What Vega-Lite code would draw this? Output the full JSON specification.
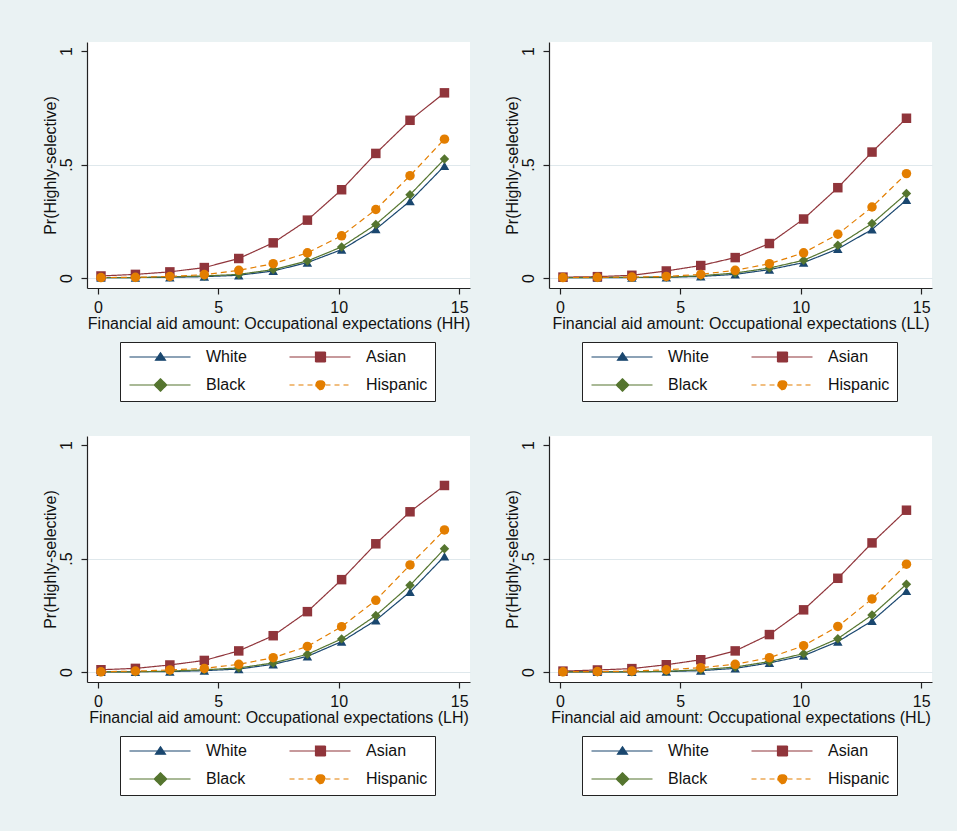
{
"$schema": "https://vega.github.io/schema/vega-lite/v6.json",
"background": "#eaf2f3",
"padding": {"left": 41, "top": 42, "right": 25, "bottom": 39},
"config": {
  "font": "Liberation Sans",
  "view": {"fill": "white", "stroke": null},
  "axis": {"labelFont": "Liberation Sans", "titleFont": "Liberation Sans", "labelFontSize": 16, "titleFontSize": 16, "titleFontWeight": "normal", "labelColor": "#111111", "titleColor": "#111111", "domainColor": "#222222", "tickColor": "#222222", "domainWidth": 1.2, "tickWidth": 1.2, "tickSize": 6},
  "legend": {"title": null, "orient": "none", "legendX": 33, "legendY": 300, "columns": 2, "direction": "horizontal", "symbolSize": 100, "symbolStrokeWidth": 1.2, "symbolOpacity": 1, "labelOffset": 63, "labelFontSize": 16, "labelFont": "Liberation Sans", "labelColor": "#111111", "rowPadding": 11, "columnPadding": 40, "padding": 7, "strokeColor": "#222222", "fillColor": "white"}
},
"data": {"values": [
{"p":"HH","g":"White","x":0.13,"y":0.002},{"p":"HH","g":"White","x":1.56,"y":0.002},{"p":"HH","g":"White","x":2.99,"y":0.003},{"p":"HH","g":"White","x":4.42,"y":0.006},{"p":"HH","g":"White","x":5.85,"y":0.012},{"p":"HH","g":"White","x":7.28,"y":0.031},{"p":"HH","g":"White","x":8.7,"y":0.068},{"p":"HH","g":"White","x":10.12,"y":0.125},{"p":"HH","g":"White","x":11.54,"y":0.215},{"p":"HH","g":"White","x":12.96,"y":0.339},{"p":"HH","g":"White","x":14.39,"y":0.494},
{"p":"HH","g":"Asian","x":0.13,"y":0.009},{"p":"HH","g":"Asian","x":1.56,"y":0.016},{"p":"HH","g":"Asian","x":2.99,"y":0.027},{"p":"HH","g":"Asian","x":4.42,"y":0.046},{"p":"HH","g":"Asian","x":5.85,"y":0.086},{"p":"HH","g":"Asian","x":7.28,"y":0.155},{"p":"HH","g":"Asian","x":8.7,"y":0.255},{"p":"HH","g":"Asian","x":10.12,"y":0.389},{"p":"HH","g":"Asian","x":11.54,"y":0.549},{"p":"HH","g":"Asian","x":12.96,"y":0.695},{"p":"HH","g":"Asian","x":14.39,"y":0.816},
{"p":"HH","g":"Black","x":0.13,"y":0.002},{"p":"HH","g":"Black","x":1.56,"y":0.002},{"p":"HH","g":"Black","x":2.99,"y":0.005},{"p":"HH","g":"Black","x":4.42,"y":0.009},{"p":"HH","g":"Black","x":5.85,"y":0.016},{"p":"HH","g":"Black","x":7.28,"y":0.037},{"p":"HH","g":"Black","x":8.7,"y":0.075},{"p":"HH","g":"Black","x":10.12,"y":0.137},{"p":"HH","g":"Black","x":11.54,"y":0.236},{"p":"HH","g":"Black","x":12.96,"y":0.367},{"p":"HH","g":"Black","x":14.39,"y":0.524},
{"p":"HH","g":"Hispanic","x":0.13,"y":0.002},{"p":"HH","g":"Hispanic","x":1.56,"y":0.003},{"p":"HH","g":"Hispanic","x":2.99,"y":0.007},{"p":"HH","g":"Hispanic","x":4.42,"y":0.015},{"p":"HH","g":"Hispanic","x":5.85,"y":0.034},{"p":"HH","g":"Hispanic","x":7.28,"y":0.063},{"p":"HH","g":"Hispanic","x":8.7,"y":0.111},{"p":"HH","g":"Hispanic","x":10.12,"y":0.186},{"p":"HH","g":"Hispanic","x":11.54,"y":0.302},{"p":"HH","g":"Hispanic","x":12.96,"y":0.451},{"p":"HH","g":"Hispanic","x":14.39,"y":0.612},
{"p":"LL","g":"White","x":0.13,"y":0.002},{"p":"LL","g":"White","x":1.56,"y":0.002},{"p":"LL","g":"White","x":2.99,"y":0.002},{"p":"LL","g":"White","x":4.42,"y":0.003},{"p":"LL","g":"White","x":5.85,"y":0.007},{"p":"LL","g":"White","x":7.28,"y":0.016},{"p":"LL","g":"White","x":8.7,"y":0.037},{"p":"LL","g":"White","x":10.12,"y":0.068},{"p":"LL","g":"White","x":11.54,"y":0.128},{"p":"LL","g":"White","x":12.96,"y":0.214},{"p":"LL","g":"White","x":14.39,"y":0.344},
{"p":"LL","g":"Asian","x":0.13,"y":0.004},{"p":"LL","g":"Asian","x":1.56,"y":0.006},{"p":"LL","g":"Asian","x":2.99,"y":0.012},{"p":"LL","g":"Asian","x":4.42,"y":0.031},{"p":"LL","g":"Asian","x":5.85,"y":0.055},{"p":"LL","g":"Asian","x":7.28,"y":0.09},{"p":"LL","g":"Asian","x":8.7,"y":0.152},{"p":"LL","g":"Asian","x":10.12,"y":0.26},{"p":"LL","g":"Asian","x":11.54,"y":0.398},{"p":"LL","g":"Asian","x":12.96,"y":0.555},{"p":"LL","g":"Asian","x":14.39,"y":0.704},
{"p":"LL","g":"Black","x":0.13,"y":0.002},{"p":"LL","g":"Black","x":1.56,"y":0.002},{"p":"LL","g":"Black","x":2.99,"y":0.003},{"p":"LL","g":"Black","x":4.42,"y":0.004},{"p":"LL","g":"Black","x":5.85,"y":0.01},{"p":"LL","g":"Black","x":7.28,"y":0.022},{"p":"LL","g":"Black","x":8.7,"y":0.044},{"p":"LL","g":"Black","x":10.12,"y":0.078},{"p":"LL","g":"Black","x":11.54,"y":0.144},{"p":"LL","g":"Black","x":12.96,"y":0.24},{"p":"LL","g":"Black","x":14.39,"y":0.372},
{"p":"LL","g":"Hispanic","x":0.13,"y":0.002},{"p":"LL","g":"Hispanic","x":1.56,"y":0.003},{"p":"LL","g":"Hispanic","x":2.99,"y":0.004},{"p":"LL","g":"Hispanic","x":4.42,"y":0.007},{"p":"LL","g":"Hispanic","x":5.85,"y":0.016},{"p":"LL","g":"Hispanic","x":7.28,"y":0.034},{"p":"LL","g":"Hispanic","x":8.7,"y":0.063},{"p":"LL","g":"Hispanic","x":10.12,"y":0.111},{"p":"LL","g":"Hispanic","x":11.54,"y":0.193},{"p":"LL","g":"Hispanic","x":12.96,"y":0.313},{"p":"LL","g":"Hispanic","x":14.39,"y":0.46},
{"p":"LH","g":"White","x":0.13,"y":0.001},{"p":"LH","g":"White","x":1.56,"y":0.001},{"p":"LH","g":"White","x":2.99,"y":0.002},{"p":"LH","g":"White","x":4.42,"y":0.006},{"p":"LH","g":"White","x":5.85,"y":0.013},{"p":"LH","g":"White","x":7.28,"y":0.034},{"p":"LH","g":"White","x":8.7,"y":0.069},{"p":"LH","g":"White","x":10.12,"y":0.134},{"p":"LH","g":"White","x":11.54,"y":0.228},{"p":"LH","g":"White","x":12.96,"y":0.353},{"p":"LH","g":"White","x":14.39,"y":0.51},
{"p":"LH","g":"Asian","x":0.13,"y":0.01},{"p":"LH","g":"Asian","x":1.56,"y":0.016},{"p":"LH","g":"Asian","x":2.99,"y":0.031},{"p":"LH","g":"Asian","x":4.42,"y":0.051},{"p":"LH","g":"Asian","x":5.85,"y":0.093},{"p":"LH","g":"Asian","x":7.28,"y":0.16},{"p":"LH","g":"Asian","x":8.7,"y":0.266},{"p":"LH","g":"Asian","x":10.12,"y":0.407},{"p":"LH","g":"Asian","x":11.54,"y":0.565},{"p":"LH","g":"Asian","x":12.96,"y":0.706},{"p":"LH","g":"Asian","x":14.39,"y":0.822},
{"p":"LH","g":"Black","x":0.13,"y":0.001},{"p":"LH","g":"Black","x":1.56,"y":0.001},{"p":"LH","g":"Black","x":2.99,"y":0.004},{"p":"LH","g":"Black","x":4.42,"y":0.01},{"p":"LH","g":"Black","x":5.85,"y":0.018},{"p":"LH","g":"Black","x":7.28,"y":0.04},{"p":"LH","g":"Black","x":8.7,"y":0.078},{"p":"LH","g":"Black","x":10.12,"y":0.146},{"p":"LH","g":"Black","x":11.54,"y":0.249},{"p":"LH","g":"Black","x":12.96,"y":0.382},{"p":"LH","g":"Black","x":14.39,"y":0.543},
{"p":"LH","g":"Hispanic","x":0.13,"y":0.001},{"p":"LH","g":"Hispanic","x":1.56,"y":0.004},{"p":"LH","g":"Hispanic","x":2.99,"y":0.009},{"p":"LH","g":"Hispanic","x":4.42,"y":0.016},{"p":"LH","g":"Hispanic","x":5.85,"y":0.034},{"p":"LH","g":"Hispanic","x":7.28,"y":0.063},{"p":"LH","g":"Hispanic","x":8.7,"y":0.113},{"p":"LH","g":"Hispanic","x":10.12,"y":0.2},{"p":"LH","g":"Hispanic","x":11.54,"y":0.316},{"p":"LH","g":"Hispanic","x":12.96,"y":0.472},{"p":"LH","g":"Hispanic","x":14.39,"y":0.626},
{"p":"HL","g":"White","x":0.13,"y":0.001},{"p":"HL","g":"White","x":1.56,"y":0.001},{"p":"HL","g":"White","x":2.99,"y":0.001},{"p":"HL","g":"White","x":4.42,"y":0.002},{"p":"HL","g":"White","x":5.85,"y":0.006},{"p":"HL","g":"White","x":7.28,"y":0.016},{"p":"HL","g":"White","x":8.7,"y":0.04},{"p":"HL","g":"White","x":10.12,"y":0.072},{"p":"HL","g":"White","x":11.54,"y":0.134},{"p":"HL","g":"White","x":12.96,"y":0.225},{"p":"HL","g":"White","x":14.39,"y":0.357},
{"p":"HL","g":"Asian","x":0.13,"y":0.004},{"p":"HL","g":"Asian","x":1.56,"y":0.009},{"p":"HL","g":"Asian","x":2.99,"y":0.015},{"p":"HL","g":"Asian","x":4.42,"y":0.032},{"p":"HL","g":"Asian","x":5.85,"y":0.054},{"p":"HL","g":"Asian","x":7.28,"y":0.093},{"p":"HL","g":"Asian","x":8.7,"y":0.165},{"p":"HL","g":"Asian","x":10.12,"y":0.274},{"p":"HL","g":"Asian","x":11.54,"y":0.413},{"p":"HL","g":"Asian","x":12.96,"y":0.569},{"p":"HL","g":"Asian","x":14.39,"y":0.713},
{"p":"HL","g":"Black","x":0.13,"y":0.001},{"p":"HL","g":"Black","x":1.56,"y":0.001},{"p":"HL","g":"Black","x":2.99,"y":0.001},{"p":"HL","g":"Black","x":4.42,"y":0.003},{"p":"HL","g":"Black","x":5.85,"y":0.01},{"p":"HL","g":"Black","x":7.28,"y":0.022},{"p":"HL","g":"Black","x":8.7,"y":0.046},{"p":"HL","g":"Black","x":10.12,"y":0.081},{"p":"HL","g":"Black","x":11.54,"y":0.147},{"p":"HL","g":"Black","x":12.96,"y":0.251},{"p":"HL","g":"Black","x":14.39,"y":0.387},
{"p":"HL","g":"Hispanic","x":0.13,"y":0.001},{"p":"HL","g":"Hispanic","x":1.56,"y":0.002},{"p":"HL","g":"Hispanic","x":2.99,"y":0.004},{"p":"HL","g":"Hispanic","x":4.42,"y":0.01},{"p":"HL","g":"Hispanic","x":5.85,"y":0.019},{"p":"HL","g":"Hispanic","x":7.28,"y":0.034},{"p":"HL","g":"Hispanic","x":8.7,"y":0.063},{"p":"HL","g":"Hispanic","x":10.12,"y":0.116},{"p":"HL","g":"Hispanic","x":11.54,"y":0.201},{"p":"HL","g":"Hispanic","x":12.96,"y":0.322},{"p":"HL","g":"Hispanic","x":14.39,"y":0.475}
]},
"columns": 2,
"bounds": "flush",
"spacing": {"row": 148, "column": 79},
"resolve": {"scale": {"color": "independent", "shape": "independent", "strokeDash": "independent", "fill": "independent", "stroke": "independent"}, "legend": {"color": "independent", "shape": "independent", "strokeDash": "independent", "fill": "independent", "stroke": "independent"}},
"concat": [
{"width": 383, "height": 246,
 "transform": [{"filter": "datum.p === 'HH'"}],
 "resolve": {"scale": {"shape": "independent", "fill": "independent", "stroke": "independent", "strokeDash": "independent"}},
 "encoding": {
  "x": {"field": "x", "type": "quantitative", "scale": {"domain": [-0.45, 15.45], "nice": false, "zero": false}, "axis": {"values": [0,5,10,15], "format": "d", "grid": false, "labelPadding": 5, "titlePadding": 0, "title": "Financial aid amount: Occupational expectations (HH)"}},
  "y": {"field": "y", "type": "quantitative", "scale": {"domain": [-0.044, 1.04], "nice": false, "zero": false}, "axis": {"values": [0, 0.5, 1], "labelExpr": "datum.value == 0.5 ? '.5' : format(datum.value, 'd')", "labelAngle": -90, "labelAlign": "center", "labelBaseline": "bottom", "labelPadding": 7, "titlePadding": 0, "grid": true, "gridColor": "#dfe8ec", "gridOpacity": {"condition": {"test": "datum.value == 1", "value": 0}, "value": 1}, "title": "Pr(Highly-selective)"}}
 },
 "layer": [
  {"mark": {"type": "line", "strokeWidth": 1.2},
   "encoding": {
    "color": {"field": "g", "type": "nominal", "scale": {"domain": ["White","Asian","Black","Hispanic"], "range": ["#1a476f","#90353b","#55752f","#e37e00"]}, "legend": null},
    "strokeDash": {"field": "g", "type": "nominal", "scale": {"domain": ["White","Asian","Black","Hispanic"], "range": [[1,0],[1,0],[1,0],[6,4]]}, "legend": null}
   }},
  {"mark": {"type": "point", "filled": true, "size": 90, "opacity": 1},
   "encoding": {
    "color": {"field": "g", "type": "nominal", "legend": null},
    "shape": {"field": "g", "type": "nominal", "scale": {"domain": ["White","Asian","Black","Hispanic"], "range": ["triangle-up","square","diamond","circle"]}, "legend": null}
   }},
  {"transform": [{"filter": "datum.x < -5"}],
   "mark": {"type": "point", "filled": true},
   "encoding": {
    "shape": {"field": "g", "type": "nominal", "scale": {"domain": ["White","Asian","Black","Hispanic"], "range": ["M-1.1,0H11.1M5.1,-0.85L6.1,0.65L4.1,0.65Z", "M-1.1,0H11.1M4.1,-1H6.1V1H4.1Z", "M-1.1,0H11.1M5.1,-1.25L6.35,0L5.1,1.25L3.85,0Z", "M-1.1,0H11.1M4.17,0A0.93,0.93 0 1,1 6.03,0A0.93,0.93 0 1,1 4.17,0Z"]}, "legend": {"title": null}},
    "fill": {"field": "g", "type": "nominal", "scale": {"domain": ["White","Asian","Black","Hispanic"], "range": ["#1a476f","#90353b","#55752f","#e37e00"]}, "legend": {"title": null}},
    "stroke": {"field": "g", "type": "nominal", "scale": {"domain": ["White","Asian","Black","Hispanic"], "range": ["#1a476f","#90353b","#55752f","#e37e00"]}, "legend": {"title": null}},
    "strokeDash": {"field": "g", "type": "nominal", "scale": {"domain": ["White","Asian","Black","Hispanic"], "range": [[1,0],[1,0],[1,0],[5,4]]}, "legend": {"title": null}}
   }}
 ]},
{"width": 383, "height": 246,
 "transform": [{"filter": "datum.p === 'LL'"}],
 "resolve": {"scale": {"shape": "independent", "fill": "independent", "stroke": "independent", "strokeDash": "independent"}},
 "encoding": {
  "x": {"field": "x", "type": "quantitative", "scale": {"domain": [-0.45, 15.45], "nice": false, "zero": false}, "axis": {"values": [0,5,10,15], "format": "d", "grid": false, "labelPadding": 5, "titlePadding": 0, "title": "Financial aid amount: Occupational expectations (LL)"}},
  "y": {"field": "y", "type": "quantitative", "scale": {"domain": [-0.044, 1.04], "nice": false, "zero": false}, "axis": {"values": [0, 0.5, 1], "labelExpr": "datum.value == 0.5 ? '.5' : format(datum.value, 'd')", "labelAngle": -90, "labelAlign": "center", "labelBaseline": "bottom", "labelPadding": 7, "titlePadding": 0, "grid": true, "gridColor": "#dfe8ec", "gridOpacity": {"condition": {"test": "datum.value == 1", "value": 0}, "value": 1}, "title": "Pr(Highly-selective)"}}
 },
 "layer": [
  {"mark": {"type": "line", "strokeWidth": 1.2},
   "encoding": {
    "color": {"field": "g", "type": "nominal", "scale": {"domain": ["White","Asian","Black","Hispanic"], "range": ["#1a476f","#90353b","#55752f","#e37e00"]}, "legend": null},
    "strokeDash": {"field": "g", "type": "nominal", "scale": {"domain": ["White","Asian","Black","Hispanic"], "range": [[1,0],[1,0],[1,0],[6,4]]}, "legend": null}
   }},
  {"mark": {"type": "point", "filled": true, "size": 90, "opacity": 1},
   "encoding": {
    "color": {"field": "g", "type": "nominal", "legend": null},
    "shape": {"field": "g", "type": "nominal", "scale": {"domain": ["White","Asian","Black","Hispanic"], "range": ["triangle-up","square","diamond","circle"]}, "legend": null}
   }},
  {"transform": [{"filter": "datum.x < -5"}],
   "mark": {"type": "point", "filled": true},
   "encoding": {
    "shape": {"field": "g", "type": "nominal", "scale": {"domain": ["White","Asian","Black","Hispanic"], "range": ["M-1.1,0H11.1M5.1,-0.85L6.1,0.65L4.1,0.65Z", "M-1.1,0H11.1M4.1,-1H6.1V1H4.1Z", "M-1.1,0H11.1M5.1,-1.25L6.35,0L5.1,1.25L3.85,0Z", "M-1.1,0H11.1M4.17,0A0.93,0.93 0 1,1 6.03,0A0.93,0.93 0 1,1 4.17,0Z"]}, "legend": {"title": null}},
    "fill": {"field": "g", "type": "nominal", "scale": {"domain": ["White","Asian","Black","Hispanic"], "range": ["#1a476f","#90353b","#55752f","#e37e00"]}, "legend": {"title": null}},
    "stroke": {"field": "g", "type": "nominal", "scale": {"domain": ["White","Asian","Black","Hispanic"], "range": ["#1a476f","#90353b","#55752f","#e37e00"]}, "legend": {"title": null}},
    "strokeDash": {"field": "g", "type": "nominal", "scale": {"domain": ["White","Asian","Black","Hispanic"], "range": [[1,0],[1,0],[1,0],[5,4]]}, "legend": {"title": null}}
   }}
 ]},
{"width": 383, "height": 246,
 "transform": [{"filter": "datum.p === 'LH'"}],
 "resolve": {"scale": {"shape": "independent", "fill": "independent", "stroke": "independent", "strokeDash": "independent"}},
 "encoding": {
  "x": {"field": "x", "type": "quantitative", "scale": {"domain": [-0.45, 15.45], "nice": false, "zero": false}, "axis": {"values": [0,5,10,15], "format": "d", "grid": false, "labelPadding": 5, "titlePadding": 0, "title": "Financial aid amount: Occupational expectations (LH)"}},
  "y": {"field": "y", "type": "quantitative", "scale": {"domain": [-0.044, 1.04], "nice": false, "zero": false}, "axis": {"values": [0, 0.5, 1], "labelExpr": "datum.value == 0.5 ? '.5' : format(datum.value, 'd')", "labelAngle": -90, "labelAlign": "center", "labelBaseline": "bottom", "labelPadding": 7, "titlePadding": 0, "grid": true, "gridColor": "#dfe8ec", "gridOpacity": {"condition": {"test": "datum.value == 1", "value": 0}, "value": 1}, "title": "Pr(Highly-selective)"}}
 },
 "layer": [
  {"mark": {"type": "line", "strokeWidth": 1.2},
   "encoding": {
    "color": {"field": "g", "type": "nominal", "scale": {"domain": ["White","Asian","Black","Hispanic"], "range": ["#1a476f","#90353b","#55752f","#e37e00"]}, "legend": null},
    "strokeDash": {"field": "g", "type": "nominal", "scale": {"domain": ["White","Asian","Black","Hispanic"], "range": [[1,0],[1,0],[1,0],[6,4]]}, "legend": null}
   }},
  {"mark": {"type": "point", "filled": true, "size": 90, "opacity": 1},
   "encoding": {
    "color": {"field": "g", "type": "nominal", "legend": null},
    "shape": {"field": "g", "type": "nominal", "scale": {"domain": ["White","Asian","Black","Hispanic"], "range": ["triangle-up","square","diamond","circle"]}, "legend": null}
   }},
  {"transform": [{"filter": "datum.x < -5"}],
   "mark": {"type": "point", "filled": true},
   "encoding": {
    "shape": {"field": "g", "type": "nominal", "scale": {"domain": ["White","Asian","Black","Hispanic"], "range": ["M-1.1,0H11.1M5.1,-0.85L6.1,0.65L4.1,0.65Z", "M-1.1,0H11.1M4.1,-1H6.1V1H4.1Z", "M-1.1,0H11.1M5.1,-1.25L6.35,0L5.1,1.25L3.85,0Z", "M-1.1,0H11.1M4.17,0A0.93,0.93 0 1,1 6.03,0A0.93,0.93 0 1,1 4.17,0Z"]}, "legend": {"title": null}},
    "fill": {"field": "g", "type": "nominal", "scale": {"domain": ["White","Asian","Black","Hispanic"], "range": ["#1a476f","#90353b","#55752f","#e37e00"]}, "legend": {"title": null}},
    "stroke": {"field": "g", "type": "nominal", "scale": {"domain": ["White","Asian","Black","Hispanic"], "range": ["#1a476f","#90353b","#55752f","#e37e00"]}, "legend": {"title": null}},
    "strokeDash": {"field": "g", "type": "nominal", "scale": {"domain": ["White","Asian","Black","Hispanic"], "range": [[1,0],[1,0],[1,0],[5,4]]}, "legend": {"title": null}}
   }}
 ]},
{"width": 383, "height": 246,
 "transform": [{"filter": "datum.p === 'HL'"}],
 "resolve": {"scale": {"shape": "independent", "fill": "independent", "stroke": "independent", "strokeDash": "independent"}},
 "encoding": {
  "x": {"field": "x", "type": "quantitative", "scale": {"domain": [-0.45, 15.45], "nice": false, "zero": false}, "axis": {"values": [0,5,10,15], "format": "d", "grid": false, "labelPadding": 5, "titlePadding": 0, "title": "Financial aid amount: Occupational expectations (HL)"}},
  "y": {"field": "y", "type": "quantitative", "scale": {"domain": [-0.044, 1.04], "nice": false, "zero": false}, "axis": {"values": [0, 0.5, 1], "labelExpr": "datum.value == 0.5 ? '.5' : format(datum.value, 'd')", "labelAngle": -90, "labelAlign": "center", "labelBaseline": "bottom", "labelPadding": 7, "titlePadding": 0, "grid": true, "gridColor": "#dfe8ec", "gridOpacity": {"condition": {"test": "datum.value == 1", "value": 0}, "value": 1}, "title": "Pr(Highly-selective)"}}
 },
 "layer": [
  {"mark": {"type": "line", "strokeWidth": 1.2},
   "encoding": {
    "color": {"field": "g", "type": "nominal", "scale": {"domain": ["White","Asian","Black","Hispanic"], "range": ["#1a476f","#90353b","#55752f","#e37e00"]}, "legend": null},
    "strokeDash": {"field": "g", "type": "nominal", "scale": {"domain": ["White","Asian","Black","Hispanic"], "range": [[1,0],[1,0],[1,0],[6,4]]}, "legend": null}
   }},
  {"mark": {"type": "point", "filled": true, "size": 90, "opacity": 1},
   "encoding": {
    "color": {"field": "g", "type": "nominal", "legend": null},
    "shape": {"field": "g", "type": "nominal", "scale": {"domain": ["White","Asian","Black","Hispanic"], "range": ["triangle-up","square","diamond","circle"]}, "legend": null}
   }},
  {"transform": [{"filter": "datum.x < -5"}],
   "mark": {"type": "point", "filled": true},
   "encoding": {
    "shape": {"field": "g", "type": "nominal", "scale": {"domain": ["White","Asian","Black","Hispanic"], "range": ["M-1.1,0H11.1M5.1,-0.85L6.1,0.65L4.1,0.65Z", "M-1.1,0H11.1M4.1,-1H6.1V1H4.1Z", "M-1.1,0H11.1M5.1,-1.25L6.35,0L5.1,1.25L3.85,0Z", "M-1.1,0H11.1M4.17,0A0.93,0.93 0 1,1 6.03,0A0.93,0.93 0 1,1 4.17,0Z"]}, "legend": {"title": null}},
    "fill": {"field": "g", "type": "nominal", "scale": {"domain": ["White","Asian","Black","Hispanic"], "range": ["#1a476f","#90353b","#55752f","#e37e00"]}, "legend": {"title": null}},
    "stroke": {"field": "g", "type": "nominal", "scale": {"domain": ["White","Asian","Black","Hispanic"], "range": ["#1a476f","#90353b","#55752f","#e37e00"]}, "legend": {"title": null}},
    "strokeDash": {"field": "g", "type": "nominal", "scale": {"domain": ["White","Asian","Black","Hispanic"], "range": [[1,0],[1,0],[1,0],[5,4]]}, "legend": {"title": null}}
   }}
 ]}
]
}
